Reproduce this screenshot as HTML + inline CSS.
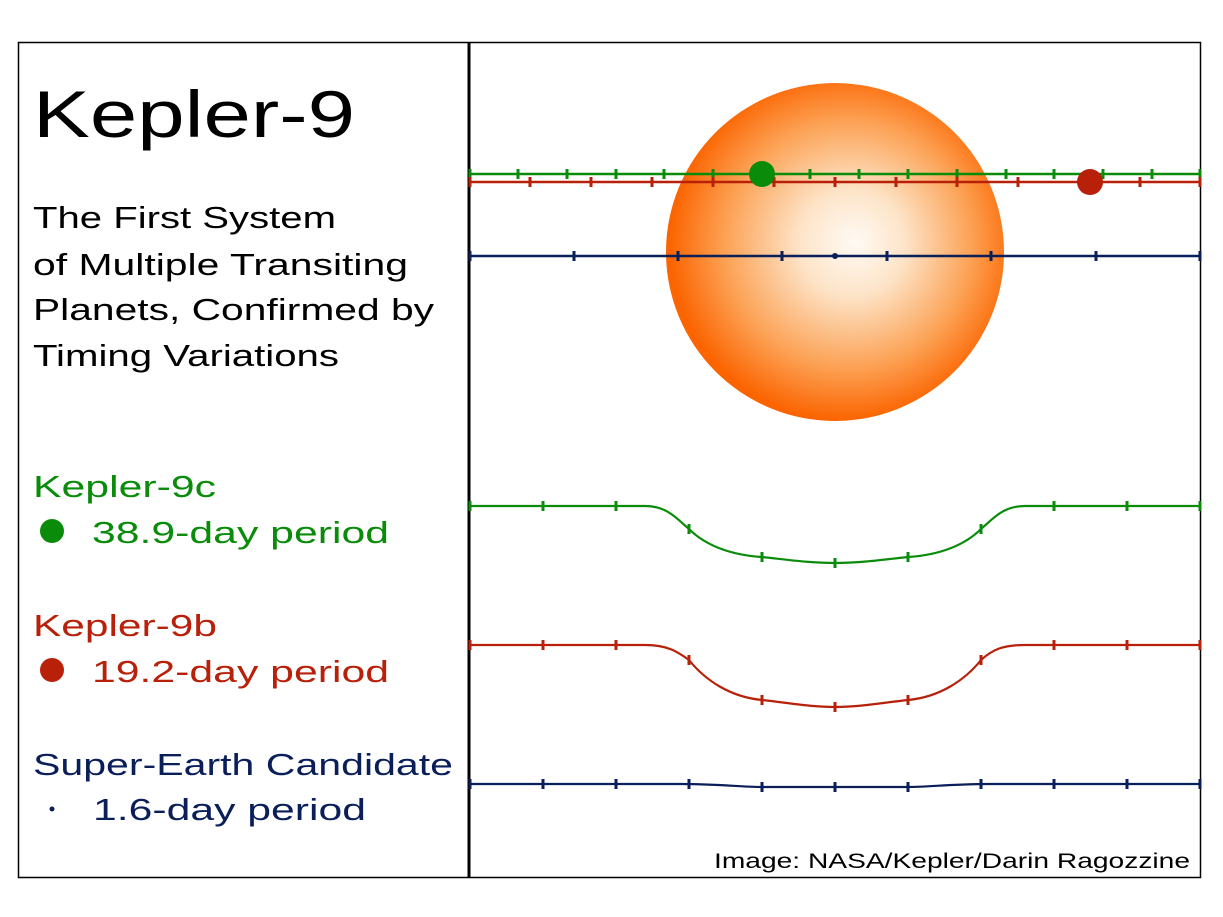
<!DOCTYPE html>
<html><head><meta charset="utf-8"><style>html,body{margin:0;padding:0;background:#fff}svg{display:block}</style></head>
<body>
<svg width="1223" height="917" viewBox="0 0 1223 917" xmlns="http://www.w3.org/2000/svg" font-family="'Liberation Sans', sans-serif">
<defs>
<radialGradient id="sg" cx="0.53" cy="0.48" r="0.52" fx="0.56" fy="0.47">
<stop offset="0" stop-color="#fffaf4"/>
<stop offset="0.3" stop-color="#fde4c8"/>
<stop offset="0.7" stop-color="#fca255"/>
<stop offset="1" stop-color="#fb6400"/>
</radialGradient>
</defs>
<rect x="18.5" y="42.5" width="1182" height="835" fill="none" stroke="#000" stroke-width="1.5"/>
<line x1="469" y1="42" x2="469" y2="878" stroke="#000" stroke-width="3"/>
<circle cx="835" cy="252" r="169" fill="url(#sg)"/>

<g stroke="#0a8c0a" stroke-width="2.5">
<line x1="470" y1="174" x2="1200" y2="174"/>
<path stroke-width="3" d="M470 169v10M518 169v10M567 169v10M616 169v10M664 169v10M713 169v10M810 169v10M859 169v10M908 169v10M957 169v10M1006 169v10M1054 169v10M1103 169v10M1152 169v10M1200 169v10"/>
</g>
<g stroke="#b8200a" stroke-width="2.5">
<line x1="470" y1="182" x2="1200" y2="182"/>
<path stroke-width="3" d="M470 177v10M530 177v10M591 177v10M652 177v10M713 177v10M774 177v10M835 177v10M896 177v10M957 177v10M1018 177v10M1140 177v10M1200 177v10"/>
</g>
<circle cx="762" cy="174" r="13" fill="#0a8c0a"/>
<circle cx="1090" cy="182" r="13" fill="#b8200a"/>
<g stroke="#0a1e5a" stroke-width="2.5">
<line x1="470" y1="256" x2="1200" y2="256"/>
<path stroke-width="3" d="M470 251v10M574 251v10M678 251v10M782 251v10M887 251v10M991 251v10M1096 251v10M1200 251v10"/>
</g>
<circle cx="835" cy="256" r="3" fill="#0a1e5a"/>

<g fill="none" stroke-width="2.2">
<path stroke="#0a8c0a" d="M470 506 L645 506 C668 506 678 520 689 529 C705 545 730 555 762 557 C790 560 810 563 835 563 C860 563 880 560 908 557 C940 555 965 545 981 529 C992 520 1002 506 1025 506 L1200 506"/>
<path stroke="#0a8c0a" stroke-width="3" d="M470 501v10M543 501v10M616 501v10M689 524v10M762 552v10M835 558v10M908 552v10M981 524v10M1054 501v10M1127 501v10M1200 501v10"/>
<path stroke="#b8200a" d="M470 645 L645 645 C668 645 678 652 689 660 C705 680 730 697 762 700 C790 703 810 707 835 707 C860 707 880 703 908 700 C940 697 965 680 981 660 C992 650 1002 645 1025 645 L1200 645"/>
<path stroke="#b8200a" stroke-width="3" d="M470 640v10M543 640v10M616 640v10M689 655v10M762 695v10M835 702v10M908 695v10M981 655v10M1054 640v10M1127 640v10M1200 640v10"/>
<path stroke="#0a1e5a" d="M470 784 L680 784 C720 784 740 787 762 787 L835 787 L908 787 C930 787 950 784 990 784 L1200 784"/>
<path stroke="#0a1e5a" stroke-width="3" d="M470 779v10M543 779v10M616 779v10M689 779v10M762 782v10M835 782v10M908 782v10M981 779v10M1054 779v10M1127 779v10M1200 779v10"/>
</g>

<text x="33" y="137" font-size="66" textLength="322" lengthAdjust="spacingAndGlyphs" fill="#000">Kepler-9</text>
<g font-size="31" fill="#000">
<text x="33" y="228" textLength="303" lengthAdjust="spacingAndGlyphs">The First System</text>
<text x="33" y="275" textLength="375" lengthAdjust="spacingAndGlyphs">of Multiple Transiting</text>
<text x="33" y="320" textLength="401" lengthAdjust="spacingAndGlyphs">Planets, Confirmed by</text>
<text x="33" y="366" textLength="306" lengthAdjust="spacingAndGlyphs">Timing Variations</text>
</g>
<g font-size="31">
<text x="33" y="497" fill="#0a8c0a" textLength="183" lengthAdjust="spacingAndGlyphs">Kepler-9c</text>
<circle cx="52" cy="531" r="12" fill="#0a8c0a"/>
<text x="92" y="543" fill="#0a8c0a" textLength="297" lengthAdjust="spacingAndGlyphs">38.9-day period</text>
<text x="33" y="636" fill="#b8200a" textLength="184" lengthAdjust="spacingAndGlyphs">Kepler-9b</text>
<circle cx="52" cy="670" r="12" fill="#b8200a"/>
<text x="92" y="682" fill="#b8200a" textLength="297" lengthAdjust="spacingAndGlyphs">19.2-day period</text>
<text x="33" y="775" fill="#0a1e5a" textLength="420" lengthAdjust="spacingAndGlyphs">Super-Earth Candidate</text>
<circle cx="52" cy="809" r="2.5" fill="#0a1e5a"/>
<text x="93" y="820" fill="#0a1e5a" textLength="273" lengthAdjust="spacingAndGlyphs">1.6-day period</text>
</g>
<text x="714" y="868" font-size="21" fill="#000" textLength="476" lengthAdjust="spacingAndGlyphs">Image: NASA/Kepler/Darin Ragozzine</text>
</svg>
</body></html>
